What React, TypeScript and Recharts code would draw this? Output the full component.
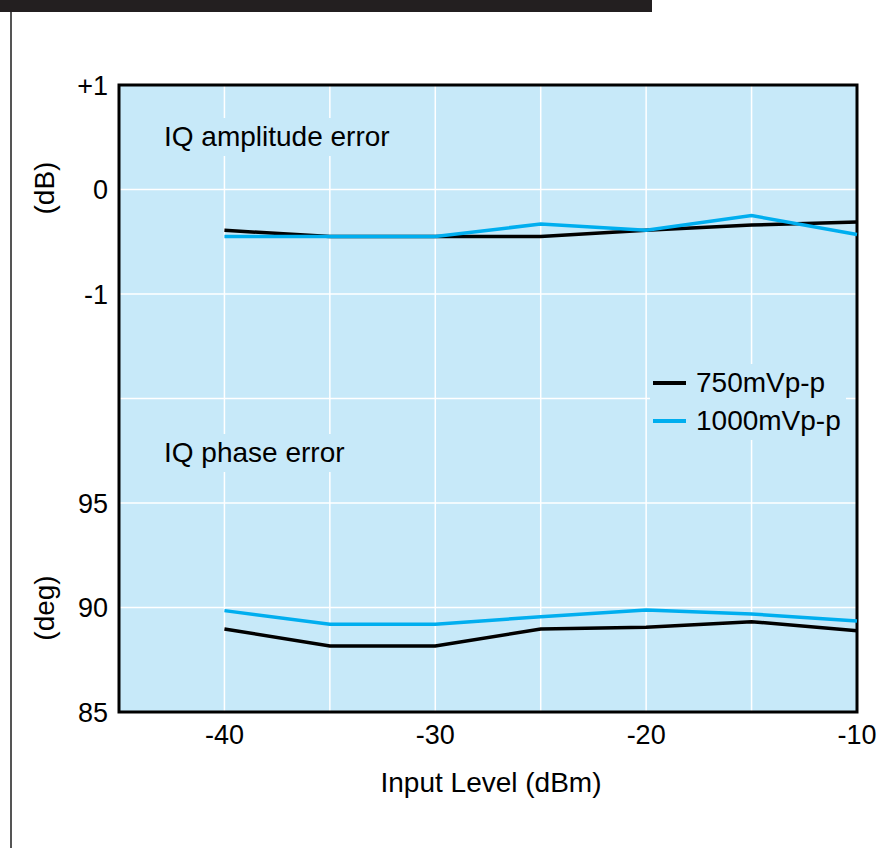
import { LineChart, Line, XAxis, YAxis, CartesianGrid, ReferenceArea } from 'recharts';

const inputLevel = [-40, -35, -30, -25, -20, -15, -10];
// IQ amplitude error (dB)
const amp750 = [-0.39, -0.45, -0.45, -0.45, -0.39, -0.34, -0.31];
const amp1000 = [-0.45, -0.45, -0.45, -0.33, -0.39, -0.25, -0.43];
// IQ phase error (deg)
const phase750 = [88.97, 88.16, 88.16, 88.97, 89.05, 89.32, 88.89];
const phase1000 = [89.85, 89.2, 89.2, 89.56, 89.88, 89.69, 89.35];

const yTickLabels = ['85', '90', '95', '', '-1', '0', '+1'];
const xTicks = [-40, -35, -30, -25, -20, -15, -10];
const xTickLabels = ['-40', '', '-30', '', '-20', '', '-10'];

const BLUE = '#00aeef';
const BG = '#c7e9f9';
const FONT = '"Liberation Sans", Arial, sans-serif';

// amplitude rows sit on the upper half, phase rows on the lower half (one shared scale 0..6)
const data = inputLevel.map((lv, i) => ({
  level: lv,
  a750: amp750[i] + 5,
  a1000: amp1000[i] + 5,
  p750: (phase750[i] - 85) / 5,
  p1000: (phase1000[i] - 85) / 5,
}));

const txt: React.CSSProperties = {
  position: 'absolute',
  fontFamily: FONT,
  fontSize: 28,
  color: '#000',
  whiteSpace: 'nowrap',
};

export default function App() {
  return (
    <div style={{ position: 'absolute', left: 0, top: 0, width: 893, height: 848, background: '#fff', overflow: 'hidden' }}>
      <div style={{ position: 'absolute', left: 0, top: 0, width: 652, height: 12, background: '#231f20' }} />
      <div style={{ position: 'absolute', left: 10, top: 12, width: 2, height: 836, background: '#555' }} />

      <LineChart width={893} height={848} data={data} margin={{ top: 85, right: 36, bottom: 106, left: 59 }}>
        <CartesianGrid stroke="#fff" strokeWidth={1.5} fill={BG} fillOpacity={1} />
        <XAxis
          dataKey="level"
          type="number"
          domain={[-45, -10]}
          ticks={xTicks}
          tickFormatter={(v: number) => xTickLabels[xTicks.indexOf(v)] ?? ''}
          height={30}
          tickLine={false}
          tickSize={0}
          tickMargin={13}
          axisLine={false}
          tick={{ fill: '#000', fontSize: 27, fontFamily: FONT }}
        />
        <YAxis
          type="number"
          domain={[0, 6]}
          ticks={[0, 1, 2, 3, 4, 5, 6]}
          tickFormatter={(v: number) => yTickLabels[v] ?? ''}
          width={60}
          tickLine={false}
          tickSize={0}
          tickMargin={11}
          axisLine={false}
          tick={{ fill: '#000', fontSize: 27, fontFamily: FONT }}
        />
        <Line dataKey="a750" stroke="#000" strokeWidth={3.5} dot={false} isAnimationActive={false} />
        <Line dataKey="a1000" stroke={BLUE} strokeWidth={3.5} dot={false} isAnimationActive={false} />
        <Line dataKey="p1000" stroke={BLUE} strokeWidth={3.5} dot={false} isAnimationActive={false} />
        <Line dataKey="p750" stroke="#000" strokeWidth={3.5} dot={false} isAnimationActive={false} />
        <ReferenceArea x1={-45} x2={-10} y1={0} y2={6} fill="none" stroke="#000" strokeWidth={3} ifOverflow="visible" />
      </LineChart>

      {/* in-plot labels, with a background patch that breaks the grid like the original */}
      <div style={{ ...txt, left: 160, top: 118, height: 38, lineHeight: '38px', padding: '0 4px', background: BG }}>IQ amplitude error</div>
      <div style={{ ...txt, left: 160, top: 434, height: 38, lineHeight: '38px', padding: '0 4px', background: BG }}>IQ phase error</div>

      <div style={{ position: 'absolute', left: 650, top: 364, width: 196, height: 76, background: BG }}>
        <div style={{ position: 'absolute', left: 3, top: 17, width: 33, height: 4, background: '#000' }} />
        <div style={{ ...txt, left: 46, top: 5, lineHeight: '28px' }}>750mVp-p</div>
        <div style={{ position: 'absolute', left: 3, top: 55, width: 33, height: 4, background: BLUE }} />
        <div style={{ ...txt, left: 46, top: 43, lineHeight: '28px' }}>1000mVp-p</div>
      </div>

      <div style={{ ...txt, left: 45, top: 188, transform: 'translate(-50%, -50%) rotate(-90deg)', lineHeight: '28px' }}>(dB)</div>
      <div style={{ ...txt, left: 45, top: 608, transform: 'translate(-50%, -50%) rotate(-90deg)', lineHeight: '28px' }}>(deg)</div>
      <div style={{ ...txt, left: 491, top: 783, transform: 'translate(-50%, -50%)', lineHeight: '28px' }}>Input Level (dBm)</div>
    </div>
  );
}
